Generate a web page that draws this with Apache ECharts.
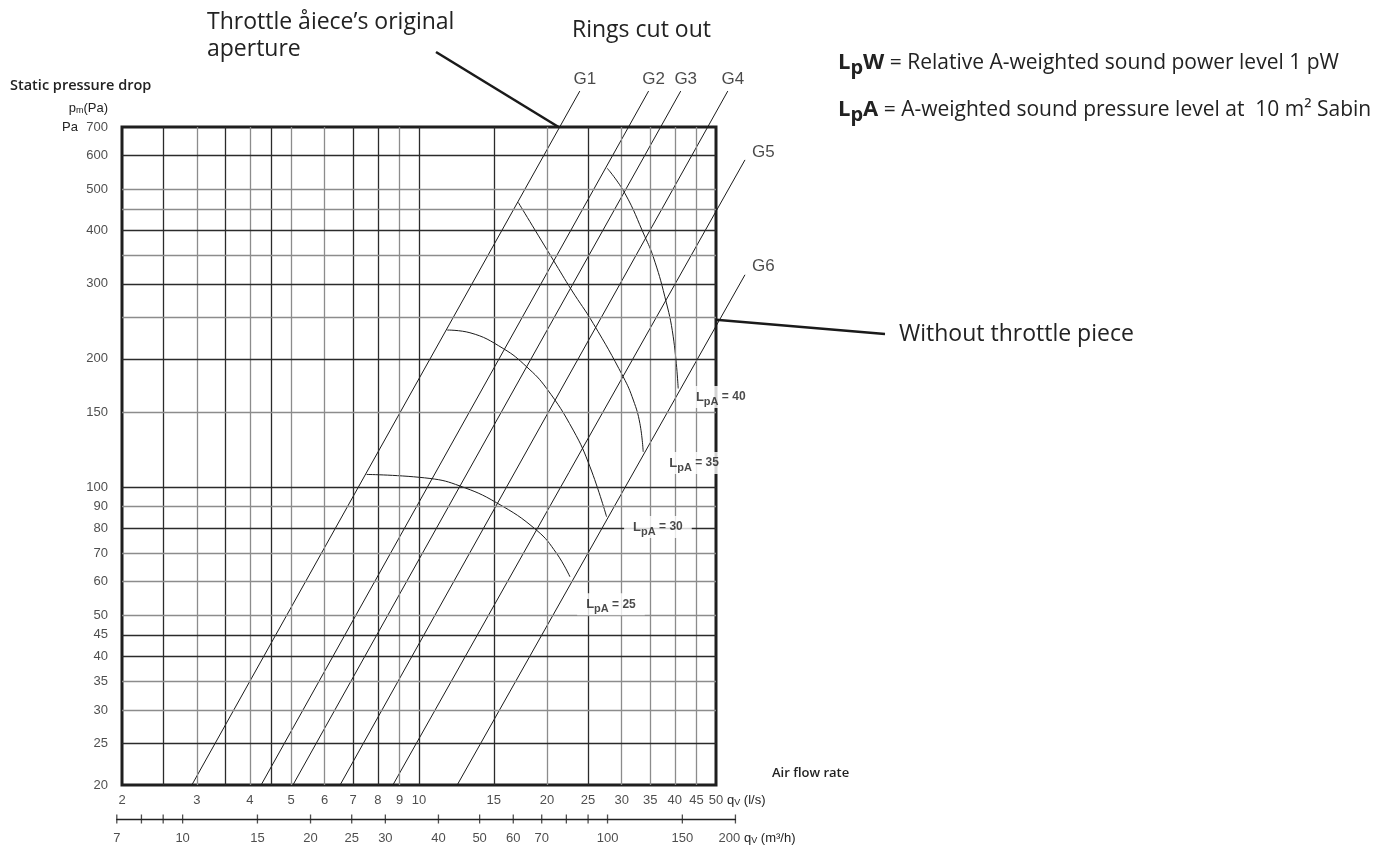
<!DOCTYPE html>
<html><head><meta charset="utf-8">
<script src="https://cdn.jsdelivr.net/npm/echarts@6/dist/echarts.min.js"></script>
<style>html,body{margin:0;padding:0;background:#fff}#c{width:1389px;height:848px}</style>
</head><body><div id="c"></div>
<script>
// ---------------- data ----------------
const yTickLabels = [20,25,30,35,40,45,50,60,70,80,90,100,150,200,300,400,500,600,700];
const yGridValues = [25,30,35,40,45,50,60,70,80,90,100,150,200,250,300,350,400,450,500,600];
const xTickLabels = [2,3,4,5,6,7,8,9,10,15,20,25,30,35,40,45,50];
const xGridValues = [2.5,3,3.5,4,4.5,5,6,7,8,9,10,15,20,25,30,35,40,45];
const m3hTicks  = [7,8,9,10,15,20,25,30,40,50,60,70,80,90,100,150,200];
const m3hLabels = [7,10,15,20,25,30,40,50,60,70,100,150,200];

// throttle rings: [q (l/s), p (Pa)] start at the bottom edge and end near their label
const ringNames = ['G1','G2','G3','G4','G5','G6'];
const ringStart = [[2.92,20],[4.25,20],[5.05,20],[6.52,20],[8.68,20],[12.3,20]];
const ringEnd   = [[23.9,850],[34.7,850],[41.3,850],[53.3,850],[58.5,586],[58.5,315]];

// sound pressure level curves
const lpa25 = [[7.53,107.1],[10.61,104.8],[12.49,100.6],[15.23,91.9],[18.92,79.2],[21.08,69.9],[22.66,61.6]];
const lpa30 = [[11.65,233.7],[13.18,230.3],[15.78,211.5],[17.92,191.6],[19.97,170.4],[23.06,136.1],[25.26,111.6],[27.64,85.2]];
const lpa35 = [[17.12,465.9],[20.70,341.1],[22.86,290.0],[25.70,242.3],[30.24,181.5],[31.94,160.1],[33.10,141.1],[33.70,121.0]];
const lpa40 = [[27.74,560.0],[30.52,489.2],[34.02,386.9],[35.58,347.3],[37.90,279.7],[39.66,225.3],[40.74,170.4]];
const lpaLevels = [25,30,35,40];
const lpaLabelAt = [[28.3,53.1],[36.5,80.6],[44.4,113.9],[51.3,162.7]];

// pointer anchors (data space)
const throttleAperturePoint = [21.3,700];
const noThrottlePoint = [50,247];

// ---------------- styles ----------------
const DARK = '#2b2b2b', GREY = '#8c8c8c', INK = '#1b1b1b';
const darkX = [2.5,3.5,4.5,7,8,10,15,25];
const darkY = [25,40,45,80,100,200,300,400,600];
const AX = '"Liberation Sans", Arial, sans-serif';
const TX = '"Open Sans", sans-serif';
const G = {left:122, top:127, width:594, height:658};
const pxPerDecade = G.width / Math.log10(50/2);
const m3hLeft  = G.left + pxPerDecade*Math.log10(m3hTicks[0]/3.6/2);
const m3hRight = G.left + pxPerDecade*Math.log10(m3hTicks[m3hTicks.length-1]/3.6/2);

const chart = echarts.init(document.getElementById('c'));

const series = [];
series.push({
  type:'line', xAxisIndex:0, yAxisIndex:0, data:[[2,20]], symbol:'none', silent:true, z:1,
  lineStyle:{width:0},
  markLine:{silent:true, symbol:'none', animation:false, label:{show:false},
    data:[
      ...xGridValues.map(v=>({xAxis:v, lineStyle:{color:darkX.includes(v)?DARK:GREY, width:1.3, type:'solid'}})),
      ...yGridValues.map(v=>({yAxis:v, lineStyle:{color:darkY.includes(v)?DARK:GREY, width:1.3, type:'solid'}}))
    ]}
});
// ring lines (custom so they may run past the frame up to their labels)
series.push({type:'custom', xAxisIndex:0, yAxisIndex:0, clip:false, z:3, silent:true,
  data: ringNames.map((n,i)=>[ringStart[i][0], ringStart[i][1], ringEnd[i][0], ringEnd[i][1]]),
  encode:{x:[0,2], y:[1,3]},
  renderItem:(params, api)=>{
    const a = api.coord([api.value(0), api.value(1)]);
    const b = api.coord([api.value(2), api.value(3)]);
    return {type:'line', shape:{x1:a[0], y1:a[1], x2:b[0], y2:b[1]}, style:{stroke:INK, lineWidth:1}};
  }
});
series.push({type:'scatter', xAxisIndex:0, yAxisIndex:0, clip:false, symbolSize:0, z:4,
  data: ringNames.map((n,i)=>({value:ringEnd[i], name:n,
    label:{position: i<4 ? 'top' : 'right', offset: i<4 ? [5,2] : [2,-8]}})),
  label:{show:true, formatter:p=>p.name, fontFamily:AX, fontSize:17, color:INK}
});
[lpa25,lpa30,lpa35,lpa40].forEach((d,i)=>{
  series.push({type:'line', xAxisIndex:0, yAxisIndex:0, smooth:0.45, symbol:'none', z:3, clip:false,
    lineStyle:{color:INK, width:1}, data:d});
});
series.push({type:'scatter', xAxisIndex:0, yAxisIndex:0, clip:false, symbolSize:0, z:10,
  data: lpaLabelAt.map((v,i)=>({value:v})),
  label:{show:true, position:'inside', backgroundColor:'#fff', padding:[3,9,3,9],
    formatter:p=>'{L|L}{s|pA}{t| = '+lpaLevels[p.dataIndex]+'}',
    rich:{
      L:{fontFamily:AX, fontWeight:'bold', fontSize:13, color:INK, lineHeight:16},
      s:{fontFamily:AX, fontWeight:'bold', fontSize:11, color:INK, lineHeight:16, padding:[9,0,0,0]},
      t:{fontFamily:AX, fontWeight:'bold', fontSize:12, color:INK, lineHeight:16}
    }}
});
// x tick labels (l/s)
series.push({type:'scatter', xAxisIndex:0, yAxisIndex:0, clip:false, symbolSize:0, z:4,
  data: xTickLabels.map(v=>[v, yTickLabels[0]]),
  label:{show:true, position:'bottom', distance:9, formatter:p=>String(p.value[0]),
    fontFamily:AX, fontSize:13, color:'#222'}
});
// y tick labels (Pa)
series.push({type:'scatter', xAxisIndex:0, yAxisIndex:0, clip:false, symbolSize:0, z:4,
  data: yTickLabels.map(v=>[xTickLabels[0], v]),
  label:{show:true, position:'left', distance:14, formatter:p=>String(p.value[1]),
    fontFamily:AX, fontSize:13, color:'#222'}
});
// m3/h scale ticks & labels
series.push({type:'scatter', xAxisIndex:1, yAxisIndex:1, clip:false, symbol:'rect', symbolSize:[1.3,9], z:4,
  itemStyle:{color:'#222'},
  data: m3hTicks.map(v=>({value:[v,0],
    label:{show:m3hLabels.includes(v), offset: v===200?[-6,0]:[0,0]}})),
  label:{position:'bottom', distance:8, formatter:p=>String(p.value[0]),
    fontFamily:AX, fontSize:13, color:'#222'}
});

const option = {
  animation:false,
  backgroundColor:'#fff',
  grid:[
    {left:G.left, top:G.top, width:G.width, height:G.height, show:true, borderColor:'#1f1f1f', borderWidth:3, backgroundColor:'transparent', outerBoundsMode:'none'},
    {left:m3hLeft, top:812, width:m3hRight-m3hLeft, height:7, show:false, outerBoundsMode:'none'}
  ],
  xAxis:[
    {gridIndex:0, type:'log', logBase:10, min:2, max:50, show:false},
    {gridIndex:1, type:'log', logBase:10, min:m3hTicks[0], max:m3hTicks[m3hTicks.length-1],
     axisLine:{show:true, lineStyle:{color:'#222', width:1.3}}, axisTick:{show:false}, axisLabel:{show:false}, splitLine:{show:false}}
  ],
  yAxis:[
    {gridIndex:0, type:'log', logBase:10, min:20, max:700, show:false},
    {gridIndex:1, type:'value', min:0, max:1, show:false}
  ],
  series
};
chart.setOption(option);

const a1 = chart.convertToPixel({xAxisIndex:0, yAxisIndex:0}, throttleAperturePoint);
const a2 = chart.convertToPixel({xAxisIndex:0, yAxisIndex:0}, noThrottlePoint);
const sub = {fontFamily:AX, fontSize:9, fill:'#222', padding:[6,0,0,0]};
const legendRich = {L:{font:'bold 22px '+TX, fill:'#222'}, p:{font:'bold 20px '+TX, fill:'#222', padding:[11,0,0,0]},
          W:{font:'bold 22px '+TX, fill:'#222'}, n:{font:'500 21px '+TX, fill:'#222'}};
chart.setOption({graphic:[
  {type:'text', x:207, y:22, style:{text:'Throttle åiece’s original', font:'500 23px '+TX, fill:'#222', verticalAlign:'middle'}},
  {type:'text', x:207, y:49, style:{text:'aperture', font:'500 23px '+TX, fill:'#222', verticalAlign:'middle'}},
  {type:'line', shape:{x1:436, y1:52, x2:a1[0], y2:a1[1]}, style:{stroke:'#1a1a1a', lineWidth:2.6}},
  {type:'text', x:572, y:30, style:{text:'Rings cut out', font:'500 23px '+TX, fill:'#222', verticalAlign:'middle'}},
  {type:'line', shape:{x1:a2[0], y1:a2[1], x2:885, y2:334}, style:{stroke:'#1a1a1a', lineWidth:2.6}},
  {type:'text', x:899, y:334, style:{text:'Without throttle piece', font:'500 23px '+TX, fill:'#222', verticalAlign:'middle'}},
  {type:'text', x:838, y:63, style:{verticalAlign:'middle',
    text:'{L|L}{p|p}{W|W}{n| = Relative A-weighted sound power level 1 pW}', rich:legendRich}},
  {type:'text', x:838, y:110, style:{verticalAlign:'middle',
    text:'{L|L}{p|p}{W|A}{n| = A-weighted sound pressure level at  10 m² Sabin}', rich:legendRich}},
  {type:'text', x:10, y:86, style:{text:'Static pressure drop', font:'600 14.5px '+TX, fill:'#222', verticalAlign:'middle'}},
  {type:'text', x:108, y:108, style:{align:'right', verticalAlign:'middle',
    text:'{a|p}{b|m}{a|(Pa)}', rich:{a:{fontFamily:AX, fontSize:13, fill:'#222'}, b:sub}}},
  {type:'text', x:62, y:127, style:{text:'Pa', fontFamily:AX, fontSize:13, fill:'#222', verticalAlign:'middle'}},
  {type:'text', x:772, y:773, style:{text:'Air flow rate', font:'600 13px '+TX, fill:'#222', verticalAlign:'middle'}},
  {type:'text', x:727, y:800, style:{verticalAlign:'middle',
    text:'{a|q}{b|V}{a| (l/s)}', rich:{a:{fontFamily:AX, fontSize:13, fill:'#222'}, b:sub}}},
  {type:'text', x:744, y:838, style:{verticalAlign:'middle',
    text:'{a|q}{b|V}{a| (m³/h)}', rich:{a:{fontFamily:AX, fontSize:13, fill:'#222'}, b:sub}}}
]});
</script>
</body></html>
